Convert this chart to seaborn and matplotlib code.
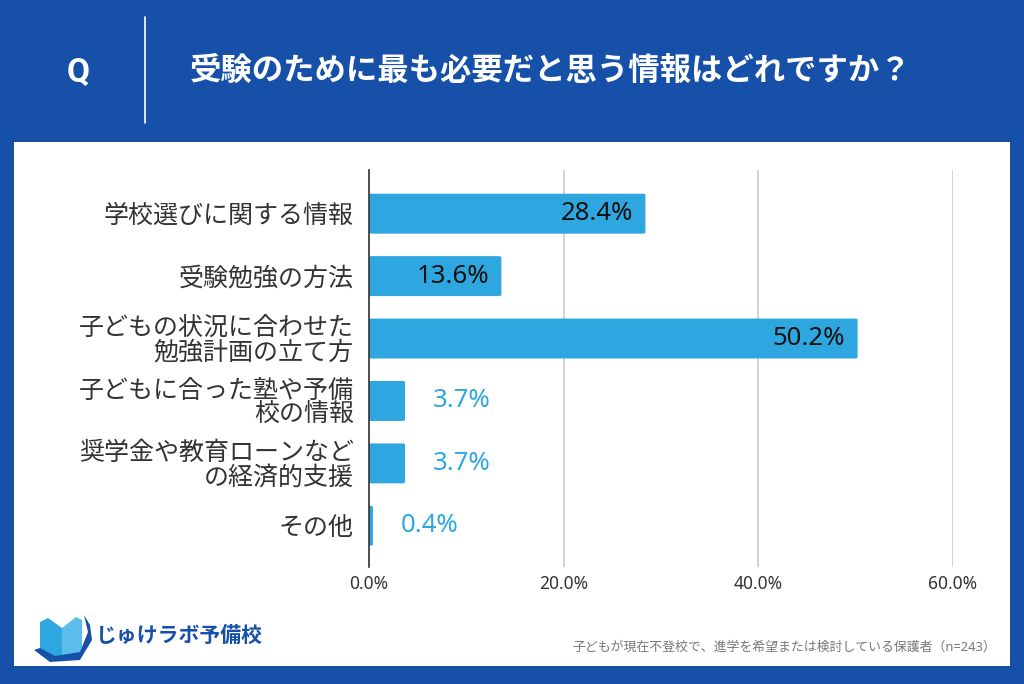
import matplotlib
matplotlib.use("Agg")
import matplotlib.pyplot as plt
import seaborn as sns
import pandas as pd
from matplotlib.patches import Rectangle, FancyBboxPatch, Polygon
from matplotlib.lines import Line2D

categories = [
    "学校選びに関する情報",
    "受験勉強の方法",
    "子どもの状況に合わせた\n勉強計画の立て方",
    "子どもに合った塾や予備\n校の情報",
    "奨学金や教育ローンなど\nの経済的支援",
    "その他",
]
values = [28.4, 13.6, 50.2, 3.7, 3.7, 0.4]
xticks = [0, 20, 40, 60]
xtick_labels = ["0.0%", "20.0%", "40.0%", "60.0%"]
title = "受験のために最も必要だと思う情報はどれですか？"
footnote = "子どもが現在不登校で、進学を希望または検討している保護者（n=243）"
brand = "じゅけラボ予備校"

BG = "#1650A8"
BAR = "#2EA7E0"

sns.set_theme(style="white")
plt.rcParams["font.family"] = ["Noto Sans", "Noto Sans CJK JP", "DejaVu Sans"]

fig = plt.figure(figsize=(10.24, 6.84), dpi=100)
fig.patch.set_facecolor(BG)

W, H = 1024, 684
def fx(x): return x / W
def fy(y): return 1 - y / H

# white panel
fig.patches.append(Rectangle((fx(14), fy(666)), fx(1010) - fx(14), fy(142) - fy(666),
                             transform=fig.transFigure, facecolor="white", edgecolor="none", zorder=-5))
# header
fig.text(fx(78), fy(72), "Q", color="white", fontsize=24, fontweight="bold",
         family=["Roboto", "DejaVu Sans"], ha="center", va="center")
fig.lines.append(Line2D([fx(145), fx(145)], [fy(17), fy(123)], transform=fig.transFigure,
                        color="white", lw=1.2))
fig.text(fx(190), fy(72), title, color="white", fontsize=22.6, fontweight="bold", ha="left", va="center")

ax = fig.add_axes([fx(369), fy(567), fx(953) - fx(369), fy(170) - fy(567)])
ax.set_facecolor("none")
ax.set_zorder(2)

df = pd.DataFrame({"category": categories, "value": values})
sns.barplot(data=df, x="value", y="category", orient="h", color=BAR, saturation=1,
            width=0.64, ax=ax, zorder=3)

# round the bar corners slightly
for p in list(ax.patches):
    x0, y0 = p.get_x(), p.get_y()
    w, h = p.get_width(), p.get_height()
    p.set_visible(False)
    rb = FancyBboxPatch((x0, y0), w, h, boxstyle="round,pad=0,rounding_size=0.3",
                        mutation_aspect=0.06, facecolor=BAR, edgecolor="none", zorder=3)
    ax.add_patch(rb)

ax.set_xlim(0, 60)
ax.set_ylim(5.66, -0.70)
ax.set_xticks(xticks)
ax.set_xticklabels(xtick_labels, fontsize=12.5, color="#333333")
ax.tick_params(axis="x", length=0, pad=6)
ax.tick_params(axis="y", length=0, pad=11)
ax.set_yticks(range(len(categories)))
ax.set_yticklabels(categories, fontsize=18, color="#333333", linespacing=0.95)
ax.set_xlabel("")
ax.set_ylabel("")
ax.grid(axis="x", color="#cccccc", lw=1.2, zorder=0)
ax.grid(axis="y", visible=False)
for s in ["top", "right", "bottom"]:
    ax.spines[s].set_visible(False)
ax.spines["left"].set_color("#333333")
ax.spines["left"].set_linewidth(1.2)
ax.spines["left"].set_zorder(5)

for i, v in enumerate(values):
    label = f"{v:.1f}%"
    if v >= 10:
        ax.annotate(label, (v, i), xytext=(-9, 0), textcoords="offset points",
                    ha="right", va="center", fontsize=18.5, color="#111111", zorder=6)
    else:
        ax.annotate(label, (v, i), xytext=(20, 0), textcoords="offset points",
                    ha="left", va="center", fontsize=18.5, color=BAR, zorder=6)

# footnote
fig.text(fx(996), fy(647), footnote, color="#777777", fontsize=9.3, ha="right", va="center")

# logo
fig.text(fx(96), fy(636), brand, color=BG, fontsize=15, fontweight="bold", ha="left", va="center")
book_l = Polygon([(fx(40), fy(655)), (fx(40), fy(622)), (fx(48), fy(618)), (fx(62), fy(628)),
                  (fx(62), fy(660))], closed=True, transform=fig.transFigure,
                 facecolor=BAR, edgecolor="none")
book_r = Polygon([(fx(62), fy(628)), (fx(76), fy(617)), (fx(82), fy(620)), (fx(82), fy(652)),
                  (fx(62), fy(660))], closed=True, transform=fig.transFigure,
                 facecolor="#5BBDEB", edgecolor="none")
fig.patches.extend([book_l, book_r])
swoosh = Polygon([(fx(34), fy(650)), (fx(50), fy(662)), (fx(80), fy(660)), (fx(92), fy(640)),
                  (fx(90), fy(625)), (fx(84), fy(615)), (fx(88), fy(632)), (fx(80), fy(652)),
                  (fx(55), fy(656)), (fx(40), fy(648))], closed=True, transform=fig.transFigure,
                 facecolor=BG, edgecolor="none")
fig.patches.append(swoosh)

fig.savefig("out.png", dpi=100, facecolor=fig.get_facecolor())
